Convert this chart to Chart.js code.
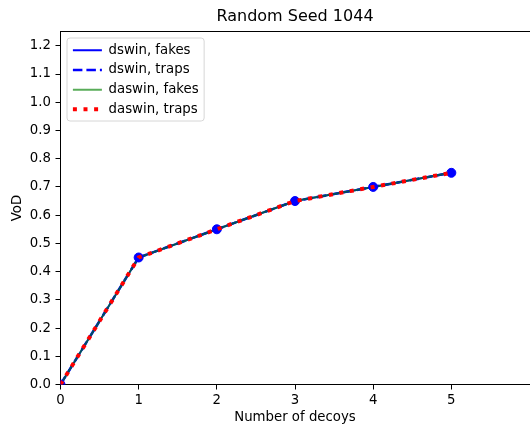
<!DOCTYPE html>
<html><head><meta charset="utf-8">
<script src="https://cdn.jsdelivr.net/npm/chart.js@4"></script>
<style>html,body{margin:0;padding:0;overflow:hidden;background:#fff}#wrap{width:535px;height:427px;position:relative}</style>
</head><body><div id="wrap"><canvas id="c"></canvas></div>
<script>
const decoys = [0, 1, 2, 3, 4, 5];
const dswinFakes = [0, 0.45, 0.55, 0.65, 0.70, 0.75];
const dswinTraps = [0, 0.45, 0.55, 0.65, 0.70, 0.75];
const daswinFakes = [0, 0.45, 0.55, 0.65, 0.70, 0.75];
const daswinTraps = [0, 0.45, 0.55, 0.65, 0.70, 0.75];
const xTicks = [0, 1, 2, 3, 4, 5];
const yTicks = [0, 0.1, 0.2, 0.3, 0.4, 0.5, 0.6, 0.7, 0.8, 0.9, 1.0, 1.1, 1.2];
const seriesLabels = ['dswin, fakes', 'dswin, traps', 'daswin, fakes', 'daswin, traps'];
const titleText = 'Random Seed 1044';
const xTitle = 'Number of decoys';
const yTitle = 'VoD';

const FONT = 'DejaVu Sans';
const FS = 13.3;
const pts = ys => decoys.map((x, i) => ({x: x, y: ys[i]}));

const legendPlace = {
  id: 'legendPlace',
  afterUpdate(chart) {
    const lg = chart.legend, ca = chart.chartArea;
    if (!lg) return;
    const dx = (ca.left + 6) - lg.left;
    const dy = (ca.top + 5.5) - lg.top;
    lg.left += dx; lg.right += dx; lg.top += dy; lg.bottom += dy;
    (lg.legendHitBoxes || []).forEach(h => { h.left += dx; h.top += dy; });
  },
  beforeDraw(chart) {
    const ca = chart.chartArea, ctx = chart.ctx;
    ctx.save();
    ctx.font = FS + 'px "' + FONT + '"';
    let w = 0;
    seriesLabels.forEach(s => { w = Math.max(w, ctx.measureText(s).width); });
    const l = ca.left + 6.5, t = ca.top + 6.3;
    const r = ca.left + 47.5 + w + 6, b = ca.top + 89.3;
    const rad = 3;
    ctx.beginPath();
    ctx.moveTo(l + rad, t);
    ctx.lineTo(r - rad, t); ctx.arcTo(r, t, r, t + rad, rad);
    ctx.lineTo(r, b - rad); ctx.arcTo(r, b, r - rad, b, rad);
    ctx.lineTo(l + rad, b); ctx.arcTo(l, b, l, b - rad, rad);
    ctx.lineTo(l, t + rad); ctx.arcTo(l, t, l + rad, t, rad);
    ctx.closePath();
    ctx.fillStyle = 'rgba(255,255,255,0.8)';
    ctx.fill();
    ctx.strokeStyle = '#d6d6d6';
    ctx.lineWidth = 1;
    ctx.stroke();
    ctx.restore();
  }
};

const axisCommon = {
  type: 'linear',
  grid: {display: true, drawOnChartArea: false, drawTicks: true, tickLength: 5, tickColor: '#000', tickWidth: 1},
  border: {display: true, color: '#000', width: 1},
};

new Chart(document.getElementById('c'), {
  type: 'line',
  data: {
    datasets: [
      {label: seriesLabels[0], data: pts(dswinFakes), borderColor: '#0000ff', backgroundColor: '#0000ff', borderWidth: 2, pointRadius: 0, order: 4},
      {label: seriesLabels[1], data: pts(dswinTraps), borderColor: '#0000ff', backgroundColor: '#0000ff', borderWidth: 2.6, borderDash: [9.5, 4], pointRadius: 0, order: 3},
      {label: seriesLabels[2], data: pts(daswinFakes), borderColor: 'rgba(0,128,0,0.65)', backgroundColor: 'rgba(0,128,0,0.65)', borderWidth: 2, pointRadius: 0, order: 1},
      {label: seriesLabels[3], data: pts(daswinTraps), borderColor: '#ff0000', backgroundColor: '#ff0000', borderWidth: 4, borderDash: [4, 6.6], pointRadius: 0, order: 0},
      {label: 'markers', data: pts(dswinFakes), showLine: false, pointRadius: 4.5, pointBackgroundColor: '#0000ff', pointBorderColor: '#0000ff', pointBorderWidth: 1, order: 0.5}
    ]
  },
  options: {
    animation: false,
    responsive: true,
    maintainAspectRatio: false,
    devicePixelRatio: 1,
    layout: {padding: 0},
    plugins: {
      tooltip: {enabled: false},
      title: {
        display: true, text: titleText, color: '#000', fullSize: false,
        font: {family: FONT, size: 16, weight: 'normal', lineHeight: 1.2}, padding: {top: 7.6, bottom: 4.9}
      },
      legend: {
        position: 'chartArea', align: 'start',
        labels: {
          color: '#000', font: {family: FONT, size: FS},
          usePointStyle: true, pointStyleWidth: 29, boxHeight: 10, padding: 6.4,
          generateLabels(chart) {
            const items = Chart.defaults.plugins.legend.labels.generateLabels(chart)
              .filter(it => it.datasetIndex < 4)
              .sort((a, b) => a.datasetIndex - b.datasetIndex);
            items.forEach(it => {
              const ds = chart.data.datasets[it.datasetIndex];
              it.pointStyle = 'line';
              it.lineWidth = ds.borderWidth;
              it.lineDash = ds.borderDash || [];
              it.strokeStyle = ds.borderColor;
              it.fillStyle = ds.borderColor;
              it.lineCap = 'butt';
            });
            return items;
          }
        }
      }
    },
    scales: {
      x: Object.assign({}, axisCommon, {
        position: 'bottom', min: 0, max: 6,
        afterBuildTicks: s => { s.ticks = xTicks.map(v => ({value: v})); },
        afterFit: s => { s.height = 42.5; },
        ticks: {color: '#000', font: {family: FONT, size: FS}, padding: 3, maxRotation: 0, autoSkip: false, callback: v => String(v)},
        title: {display: true, text: xTitle, color: '#000', font: {family: FONT, size: FS}, padding: {top: 0, bottom: 1}}
      }),
      y: Object.assign({}, axisCommon, {
        position: 'left', min: 0, max: 1.25,
        afterBuildTicks: s => { s.ticks = yTicks.map(v => ({value: v})); },
        afterFit: s => { s.width = 60.5; },
        ticks: {color: '#000', font: {family: FONT, size: FS}, padding: 4.5, autoSkip: false, callback: v => v.toFixed(1)},
        title: {display: true, text: yTitle, color: '#000', font: {family: FONT, size: FS}, padding: {top: 10, bottom: 0}}
      }),
      x2: {
        type: 'linear', position: 'top', min: 0, max: 6,
        ticks: {display: false}, grid: {display: false, drawTicks: false},
        border: {display: true, color: '#000', width: 1},
        afterFit: s => { s.height = 0; }
      }
    }
  },
  plugins: [legendPlace]
});
</script>
</body></html>
